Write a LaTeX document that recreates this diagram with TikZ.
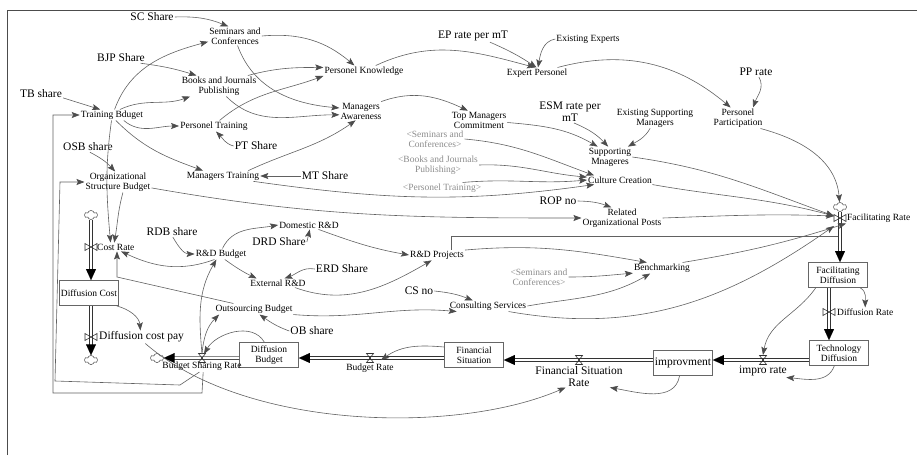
\documentclass[tikz,border=0pt]{standalone}
\usepackage{fontspec}
\setmainfont{Liberation Serif}
\usetikzlibrary{arrows.meta,positioning,shapes.symbols}

\tikzset{
  var/.style={font=\fontsize{9.5}{10}\selectfont,align=center,inner sep=1pt},
  big/.style={font=\fontsize{11.5}{12}\selectfont,align=center,inner sep=1pt},
  ghost/.style={var,text=black!45},
  stock/.style={var,draw=black!60,line width=0.8pt,minimum width=59pt,minimum height=25pt},
  cloudy/.style={cloud,cloud puffs=6,draw=black!75,line width=0.5pt,aspect=1.5,minimum width=13pt,minimum height=9pt,inner sep=0pt},
  link/.style={draw=black!62,line width=0.6pt,-{Stealth[length=8pt,width=6pt,inset=1.5pt,color=black!70]}},
  wire/.style={draw=black!62,line width=0.6pt},
  pipe/.style={draw=black!80,double=white,double distance=2.4pt,line width=0.55pt,shorten >=8pt},
  pipehead/.style={draw=white,line width=0.1pt,-{Triangle[length=11pt,width=10pt,color=black]}},
  valvev/.pic={\draw[black!80,line width=0.6pt] (-6pt,3.5pt) -- (6pt,-3.5pt) -- (6pt,3.5pt) -- (-6pt,-3.5pt) -- cycle;},
  valveh/.pic={\draw[black!80,line width=0.6pt] (-3.5pt,4.5pt) -- (3.5pt,4.5pt) -- (-3.5pt,-4.5pt) -- (3.5pt,-4.5pt) -- cycle;},
  frameline/.style={draw=black!70,line width=1pt}
}

\begin{document}
\begin{tikzpicture}[x=1pt,y=1pt]
\useasboundingbox (0,0) rectangle (917,-455);
\draw[frameline] (7,-455) -- (7,-10) -- (917,-10);

\node[big] (scshare) at (152,-17) {SC Share};
\node[var] (seminars) at (235,-36) {Seminars and\\Conferences};
\node[big] (bjpshare) at (121,-58) {BJP Share};
\node[var] (books) at (219,-86) {Books and Journals\\Publishing};
\node[big] (tbshare) at (41,-94) {TB share};
\node[var] (training) at (112,-115) {Training Bduget};
\node[var] (pertrain) at (214,-126) {Personel Training};
\node[big] (ptshare) at (256,-146) {PT Share};
\node[big] (osbshare) at (88,-147) {OSB share};
\node[var] (orgbudget) at (118,-182) {Organizational\\Structure Budget};
\node[var] (mantrain) at (223,-176) {Managers Training};
\node[big] (mtshare) at (325,-176) {MT Share};
\node[var] (perknow) at (364,-71) {Personel Knowledge};
\node[big] (eprate) at (473,-36) {EP rate per mT};
\node[var] (existexp) at (588,-39) {Existing Experts};
\node[var] (expert) at (537,-73) {Expert Personel};
\node[var] (manaware) at (361,-111) {Managers\\Awareness};
\node[var] (topman) at (479,-120) {Top Managers\\Commitment};
\node[big] (esmrate) at (570,-112) {ESM rate per\\mT};
\node[var] (existsup) at (655,-118) {Existing Supporting\\Managers};
\node[big] (pprate) at (756,-72) {PP rate};
\node[var] (perpart) at (738,-118) {Personel\\Participation};
\node[var] (supman) at (610,-157) {Supporting\\Mnageres};
\node[ghost] (ghostsem) at (435,-139) {<Seminars and\\Conferences>};
\node[ghost] (ghostbook) at (438,-165) {<Books and Journals\\Publishing>};
\node[ghost] (ghostpt) at (442,-188) {<Personel Training>};
\node[var] (culture) at (620,-180) {Culture Creation};
\node[big] (ropno) at (558,-201) {ROP no};
\node[var] (relorg) at (622,-218) {Related\\Organizational Posts};

\node[big] (rdbshare) at (172,-232) {RDB share};
\node[var] (rdbudget) at (221,-254) {R\&D Budget};
\node[var] (domestic) at (309,-225) {Domestic R\&D};
\node[big] (drdshare) at (279,-242) {DRD Share};
\node[var] (external) at (278,-283) {External R\&D};
\node[big] (erdshare) at (342,-269) {ERD Share};
\node[var] (rdproj) at (437,-255) {R\&D Projects};
\node[ghost] (ghostsem2) at (539,-277) {<Seminars and\\Conferences>};
\node[var] (bench) at (662,-268) {Benchmarking};
\node[big] (csno) at (419,-291) {CS no};
\node[var] (consult) at (488,-306) {Consulting Services};
\node[var] (outsource) at (254,-309) {Outsourcing Budget};
\node[big] (obshare) at (312,-331) {OB share};

\node[stock] (diffcost) at (89,-293) {Diffusion Cost};
\node[stock] (diffbudget) at (269,-355) {Diffusion\\Budget};
\node[stock] (finsit) at (474,-355) {Financial\\Situation};
\node[stock,big] (improv) at (683,-363) {improvment};
\node[stock] (facdiff) at (838,-275) {Facilitating\\Diffusion};
\node[stock] (techdiff) at (839,-353) {Technology\\Diffusion};

\node[cloudy] (cloudtop) at (91,-215) {};
\node[cloudy] (cloudbot) at (91,-360) {};
\node[cloudy] (cloudleft) at (157,-358) {};
\node[cloudy] (cloudfac) at (840,-207) {};

\coordinate (vcost) at (91,-247);
\coordinate (vpay) at (91,-337);
\coordinate (vshare) at (202,-358);
\coordinate (vbudget) at (370,-358);
\coordinate (vfsr) at (579,-360);
\coordinate (vimpro) at (763,-360);
\coordinate (vfac) at (840,-218);
\coordinate (vdiff) at (829,-312);

\node[var,right=5pt of vcost] (costrate) {Cost Rate};
\node[big,right=7pt of vpay] (diffpay) {Diffusion cost pay};
\node[var,below=3pt of vshare] (sharerate) {Budget Sharing Rate};
\node[var,below=5pt of vbudget] (budgetrate) {Budget Rate};
\node[big,below=5pt of vfsr] (fsr) {Financial Situation\\Rate};
\node[big,below=5pt of vimpro] (improrate) {impro rate};
\node[var,right=6pt of vfac] (facrate) {Facilitating Rate};
\node[var,right=7pt of vdiff] (diffrate) {Diffusion Rate};

\draw[pipe] (cloudtop.south) -- (diffcost.north -| vcost);
\draw[pipehead] (vcost) -- (diffcost.north -| vcost);
\draw[pipe] (diffcost.south -| vpay) -- (cloudbot.north);
\draw[pipehead] (vpay) -- (cloudbot.north);
\draw[pipe] (diffbudget.west |- vshare) -- (cloudleft.east);
\draw[pipehead] (vshare) -- (cloudleft.east);
\draw[pipe] (finsit.west |- vbudget) -- (diffbudget.east |- vbudget);
\draw[pipehead] (vbudget) -- (diffbudget.east |- vbudget);
\draw[pipe] (improv.west |- vfsr) -- (finsit.east |- vfsr);
\draw[pipehead] (vfsr) -- (finsit.east |- vfsr);
\draw[pipe] (techdiff.west |- vimpro) -- (improv.east |- vimpro);
\draw[pipehead] (vimpro) -- (improv.east |- vimpro);
\draw[pipe] (cloudfac.south) -- (facdiff.north -| vfac);
\draw[pipehead] (vfac) -- (facdiff.north -| vfac);
\draw[pipe] (facdiff.south -| vdiff) -- (techdiff.north -| vdiff);
\draw[pipehead] (vdiff) -- (techdiff.north -| vdiff);
\foreach \v in {vcost,vpay,vfac,vdiff} \pic at (\v) {valvev};
\foreach \v in {vshare,vbudget,vfsr,vimpro} \pic at (\v) {valveh};

\coordinate (facin) at (834,-216);
\coordinate (facin2) at (834,-226);
\coordinate (rdtap) at (838,-236);
\coordinate (obbend) at (117,-277);
\coordinate (ol1) at (202,-393);
\coordinate (ol2) at (53,-393);
\coordinate (il1) at (180,-385);
\coordinate (il2) at (55,-381);
\coordinate (il3) at (60,-182);

\draw[link] (scshare.east) to[bend left=12] (seminars.125);
\draw[link] (training.65) to[out=70,in=195] (seminars.192);
\draw[link] (bjpshare.-15) to[bend left=5] (books.155);
\draw[link] (training.35) to[out=25,in=200] (books.200);
\draw[link] (tbshare.-10) -- (training.155);
\draw[link] (training.-25) to[out=-40,in=180] (pertrain.west);
\draw[link] (ptshare.west) to[out=165,in=-45] (pertrain.-70);
\draw[link] (training.-55) to[out=-45,in=160] (mantrain.165);
\draw[link] (mtshare.west) -- (mantrain.east);
\draw[link] (osbshare.-70) to[bend left=10] (orgbudget.105);
\draw[link] (training.-95) to[out=-98,in=95] (costrate.140);
\draw[link] (orgbudget.-65) to[out=-105,in=80] (costrate.110);
\draw[link] (seminars.east) to[out=5,in=140] (perknow.150);
\draw[link] (seminars.-75) to[out=-70,in=175] (manaware.172);
\draw[link] (books.20) to[out=15,in=180] (perknow.175);
\draw[link] (books.-55) to[out=-45,in=180] (manaware.190);
\draw[link] (pertrain.45) to[out=40,in=200] (perknow.187);
\draw[link] (mantrain.12) to[out=25,in=215] (manaware.-120);
\draw[link] (mantrain.-10) to[out=-8,in=188] (culture.190);
\draw[link] (perknow.25) to[out=25,in=165] (expert.110);
\draw[link] (eprate.-20) to[bend left=5] (expert.95);
\draw[link] (existexp.west) to[out=190,in=80] (expert.80);
\draw[link] (expert.15) to[out=15,in=140] (perpart.125);
\draw[link] (pprate.-60) to[out=-60,in=70] (perpart.35);
\draw[link] (manaware.25) to[out=20,in=155] (topman.140);
\draw[link] (topman.-5) to[out=-5,in=150] (supman.140);
\draw[link] (esmrate.-70) to[bend left=12] (supman.100);
\draw[link] (existsup.-115) to[out=240,in=30] (supman.30);
\draw[link] (ghostsem.east) to[out=-5,in=160] (culture.170);
\draw[link] (ghostbook.east) to[out=2,in=175] (culture.175);
\draw[link] (ghostpt.15) to[out=5,in=185] (culture.west);
\draw[link] (supman.east) to[out=-8,in=160] (facin);
\draw[link] (culture.-8) to[out=-10,in=165] (facin);
\draw[link] (relorg.east) to[out=2,in=178] (facin);
\draw[link] (perpart.-25) to[out=-15,in=95] (cloudfac);
\draw[link] (ropno.east) to[bend left=10] (relorg.135);
\draw[link] (orgbudget.-10) to[out=-10,in=180] (relorg.west);
\draw[wire] (rdproj.20) |- (rdtap);
\draw[link] (bench.15) to[bend right=4] (facrate.south west);
\draw[link] (consult.-15) to[out=-10,in=215] (facin2);
\draw[link] (rdproj.10) to[out=5,in=170] (bench.160);
\draw[link] (ghostsem2.east) to[out=0,in=185] (bench.190);
\draw[link] (consult.east) to[out=10,in=210] (bench.-155);
\draw[link] (csno.east) to[bend left=8] (consult.160);
\draw[link] (domestic.-25) to[out=-20,in=170] (rdproj.west);
\draw[link] (external.-15) to[out=-20,in=210] (rdproj.-135);
\draw[link] (rdbudget.75) to[out=65,in=190] (domestic.west);
\draw[link] (rdbudget.-55) to[bend right=5] (external.168);
\draw[link] (drdshare.east) -- (domestic.-80);
\draw[link] (erdshare.west) to[out=170,in=20] (external.35);
\draw[link] (rdbshare.-80) to[out=-60,in=180] (rdbudget.west);
\draw[link] (rdbudget.-140) to[out=200,in=-25] (costrate.-40);
\draw[link] (outsource.165) -- (obbend) -- (obbend |- costrate.south);
\draw[link] (outsource.-8) to[out=-5,in=175] (consult.190);
\draw[link] (obshare.west) to[out=160,in=-35] (outsource.-45);
\draw[link] ([yshift=4pt]vshare) to[out=95,in=240] (rdbudget.-130);
\draw[link] ([yshift=4pt]vshare) to[out=85,in=225] (outsource.189);
\draw[link] (diffbudget.110) to[out=120,in=60] ([xshift=2pt,yshift=4pt]vshare);
\draw[link] (diffcost.-25) to[out=-15,in=95] (diffpay.100);
\draw[link] (diffpay.-60) .. controls +(100,-87) and +(-109,-47) .. (fsr.-140);
\draw[link] (finsit.165) to[out=175,in=35] ([xshift=11pt,yshift=-2pt]vbudget);
\draw[link] (improv.-105) to[out=-100,in=-10] (fsr.-20);
\draw[link] (techdiff.-110) to[out=-110,in=-5] (improrate.-15);
\draw[link] (facdiff.-150) to[out=-125,in=80] ([yshift=5pt]vimpro);
\draw[link] (facdiff.-30) to[out=-30,in=90] (diffrate.north);
\draw[link] (sharerate.-78) -- (ol1) -- (ol2) |- (training.west);
\draw[link] (sharerate.-115) -- (il1) -- (il2) -- (il3) -- (orgbudget.west |- il3);
\end{tikzpicture}
\end{document}
